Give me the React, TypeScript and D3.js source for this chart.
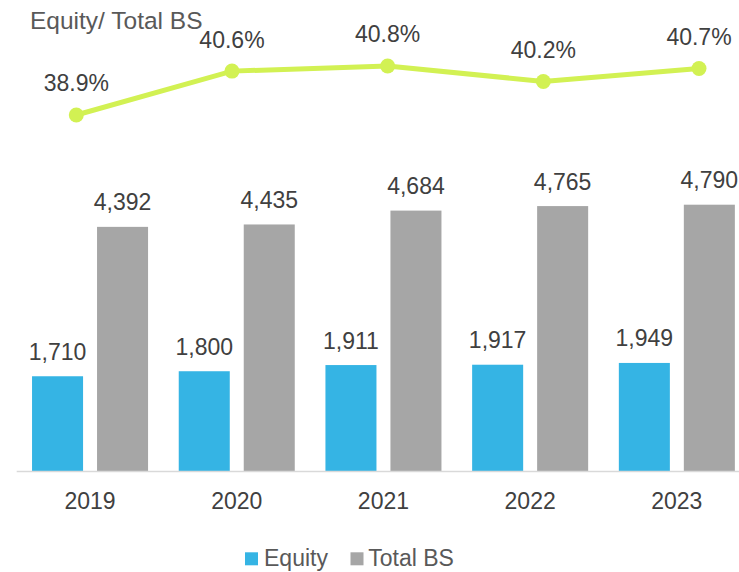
import * as d3 from "d3";
import React from "react";

const years = ["2019", "2020", "2021", "2022", "2023"];
const equity = [1710, 1800, 1911, 1917, 1949];
const totalBS = [4392, 4435, 4684, 4765, 4790];
const ratio = [38.9, 40.6, 40.8, 40.2, 40.7];
const seriesNames = ["Equity", "Total BS"];

const width = 739;
const height = 572;
const font = "'Liberation Sans', Arial, sans-serif";
const blue = "#35b4e4";
const gray = "#a6a6a6";
const lime = "#d2f153";

export default function App() {
  const x0 = d3.scaleBand().domain(years).range([16.7, 750.2]).paddingInner(0).paddingOuter(0);
  const x1 = d3
    .scaleBand()
    .domain(seriesNames)
    .range([0, x0.bandwidth()])
    .paddingInner(0.215)
    .paddingOuter(0.236);
  const y = d3.scaleLinear().domain([0, 5000]).range([471.5, 193]);

  const xl = d3.scalePoint().domain(years).range([76.3, 699]);
  const yl = d3.scaleLinear().domain([38, 41]).range([138.2, 60.8]);
  const line = d3
    .line<number>()
    .x((_, i) => xl(years[i]) as number)
    .y((d) => yl(d));

  const fmt = d3.format(",");
  const series = [
    { name: "Equity", values: equity, color: blue },
    { name: "Total BS", values: totalBS, color: gray },
  ];

  return (
    <svg
      width={width}
      height={height}
      style={{ position: "absolute", left: 0, top: 0, background: "#fff" }}
      fontFamily={font}
    >
      <text x={30} y={28.5} fontSize={24.5} fill="#595959">
        Equity/ Total BS
      </text>

      {/* bars */}
      {series.map((s) =>
        s.values.map((v, i) => {
          const bx = (x0(years[i]) as number) + (x1(s.name) as number);
          return (
            <g key={s.name + i}>
              <rect
                x={bx}
                y={y(v)}
                width={x1.bandwidth()}
                height={y(0) - y(v)}
                fill={s.color}
              />
              <text
                x={bx + x1.bandwidth() / 2}
                y={y(v) - 16.5}
                textAnchor="middle"
                fontSize={23}
                fill="#404040"
              >
                {fmt(v)}
              </text>
            </g>
          );
        })
      )}

      <line x1={16.7} x2={width} y1={y(0)} y2={y(0)} stroke="#d9d9d9" strokeWidth={1.5} />

      {years.map((yr) => (
        <text
          key={yr}
          x={(x0(yr) as number) + x0.bandwidth() / 2}
          y={509}
          textAnchor="middle"
          fontSize={23}
          fill="#404040"
        >
          {yr}
        </text>
      ))}

      {/* ratio line */}
      <path d={line(ratio) || ""} fill="none" stroke={lime} strokeWidth={5} />
      {ratio.map((v, i) => (
        <g key={"r" + i}>
          <circle cx={xl(years[i])} cy={yl(v)} r={7.5} fill={lime} />
          <text
            x={xl(years[i])}
            y={yl(v) - 23.5}
            textAnchor="middle"
            fontSize={23}
            fill="#404040"
          >
            {v.toFixed(1)}%
          </text>
        </g>
      ))}

      {/* legend */}
      <rect x={245} y={552.3} width={13} height={13} fill={blue} />
      <text x={264} y={565.5} fontSize={23} fill="#595959">
        Equity
      </text>
      <rect x={350.5} y={552.3} width={13} height={13} fill={gray} />
      <text x={368.3} y={565.5} fontSize={23} fill="#595959">
        Total BS
      </text>
    </svg>
  );
}
